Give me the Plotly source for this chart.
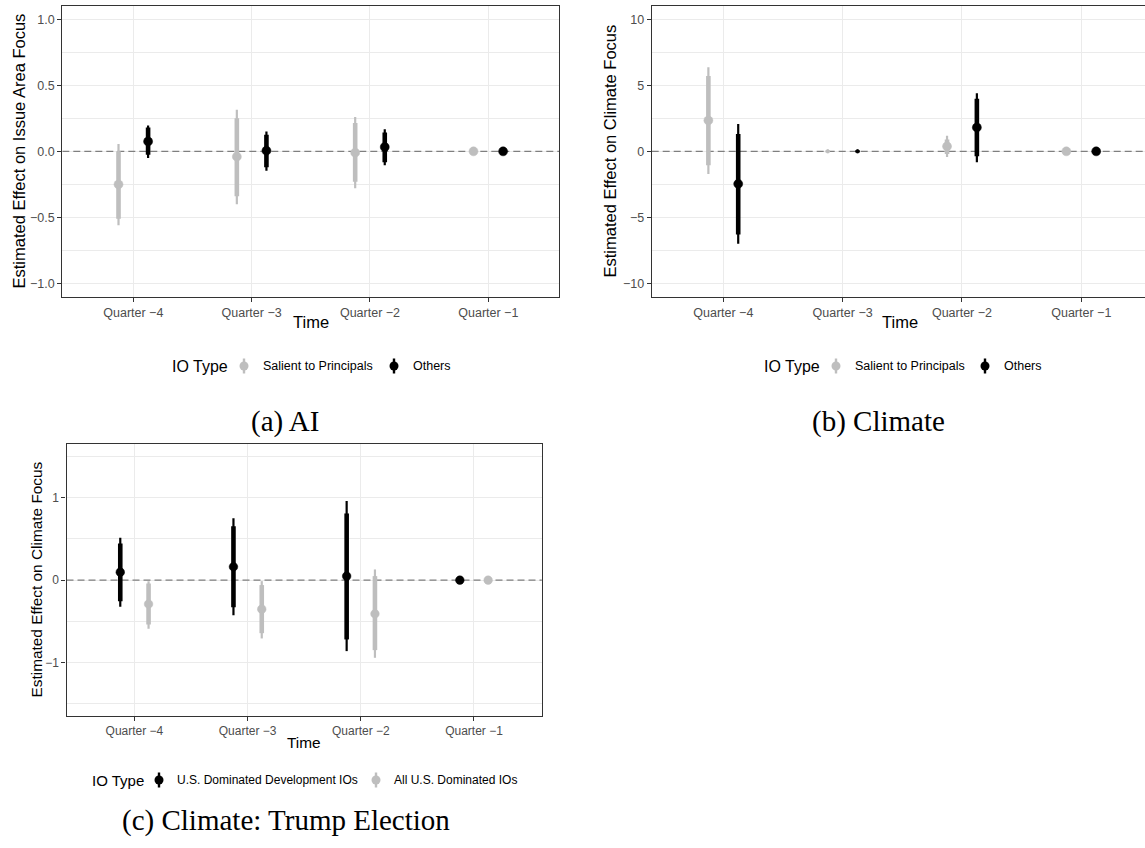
import plotly.graph_objects as go

W, H = 1145, 848

quarters = ["Quarter \u22124", "Quarter \u22123", "Quarter \u22122", "Quarter \u22121"]

# (a) AI
ai_salient_est = [-0.25, -0.04, -0.01, 0.0]
ai_salient_lo95 = [-0.56, -0.40, -0.28, None]
ai_salient_lo90 = [-0.51, -0.34, -0.23, None]
ai_salient_hi90 = [0.0, 0.25, 0.215, None]
ai_salient_hi95 = [0.055, 0.315, 0.26, None]

ai_others_est = [0.075, 0.005, 0.033, 0.0]
ai_others_lo95 = [-0.05, -0.146, -0.105, None]
ai_others_lo90 = [-0.025, -0.12, -0.083, None]
ai_others_hi90 = [0.18, 0.126, 0.143, None]
ai_others_hi95 = [0.196, 0.15, 0.167, None]

# (b) Climate
cl_salient_est = [2.34, 0.0, 0.38, 0.0]
cl_salient_lo95 = [-1.71, -0.15, -0.43, None]
cl_salient_lo90 = [-1.06, -0.08, -0.2, None]
cl_salient_hi90 = [5.71, 0.08, 0.9, None]
cl_salient_hi95 = [6.37, 0.15, 1.18, None]

cl_others_est = [-2.46, 0.0, 1.81, 0.0]
cl_others_lo95 = [-6.99, -0.15, -0.83, None]
cl_others_lo90 = [-6.29, -0.08, -0.38, None]
cl_others_hi90 = [1.31, 0.08, 3.98, None]
cl_others_hi95 = [2.07, 0.15, 4.4, None]

# (c) Climate: Trump Election
tr_dev_est = [0.097, 0.162, 0.049, 0.0]
tr_dev_lo95 = [-0.324, -0.425, -0.862, None]
tr_dev_lo90 = [-0.255, -0.328, -0.72, None]
tr_dev_hi90 = [0.445, 0.656, 0.81, None]
tr_dev_hi95 = [0.514, 0.753, 0.96, None]

tr_all_est = [-0.29, -0.352, -0.409, 0.0]
tr_all_lo95 = [-0.59, -0.708, -0.943, None]
tr_all_lo90 = [-0.54, -0.644, -0.85, None]
tr_all_hi90 = [-0.04, -0.06, 0.049, None]
tr_all_hi95 = [-0.012, -0.012, 0.13, None]

GREY = "#BEBEBE"
BLACK = "#000000"
FRAME = "#333333"
GRID = "#EBEBEB"
SANS = "Liberation Sans, Arial, sans-serif"
SERIF = "Liberation Serif, Times New Roman, serif"


def px(x):
    return x / W


def py(y):
    return 1 - y / H


fig = go.Figure()

# panel geometry in pixels: left, right, top, bottom
A = (62.3, 559.3, 6.0, 296.7)
B = (651.7, 1145.0, 6.0, 296.7)
C = (66.5, 541.9, 444.3, 716.0)
XR_A = [0.4, 4.6]
XR_B = [0.4, 4.534]
XR_C = [0.4, 4.6]

# dashed reference line at zero, drawn first so the estimates sit on top
for xa, ya, xr in (("x", "y", XR_A), ("x2", "y2", XR_B), ("x3", "y3", XR_C)):
    fig.add_trace(go.Scatter(x=xr, y=[0, 0], mode="lines", xaxis=xa, yaxis=ya,
                             line=dict(color="#7F7F7F", width=1.3, dash="7px,4px"),
                             showlegend=False, hoverinfo="skip"))


def add_series(xa, ya, est, lo95, lo90, hi90, hi95, offset, color,
               thin=2.2, thick=4.6, size=9, small=()):
    xs = [i + 1 + offset for i in range(len(est))]
    for lo_list, hi_list, w in ((lo95, hi95, thin), (lo90, hi90, thick)):
        lx, ly = [], []
        for x, lo, hi in zip(xs, lo_list, hi_list):
            if lo is None:
                continue
            lx += [x, x, None]
            ly += [lo, hi, None]
        fig.add_trace(go.Scatter(x=lx, y=ly, mode="lines", xaxis=xa, yaxis=ya,
                                 line=dict(color=color, width=w),
                                 showlegend=False, hoverinfo="skip"))
    sizes = [3 if q in small else size for q in quarters]
    fig.add_trace(go.Scatter(x=xs, y=est, mode="markers", xaxis=xa, yaxis=ya,
                             marker=dict(color=color, size=sizes, opacity=1,
                                         line=dict(width=0.5, color=color)),
                             showlegend=False))


DODGE = 0.125

# panel (a)
add_series("x", "y", ai_salient_est, ai_salient_lo95, ai_salient_lo90,
           ai_salient_hi90, ai_salient_hi95, -DODGE, GREY)
add_series("x", "y", ai_others_est, ai_others_lo95, ai_others_lo90,
           ai_others_hi90, ai_others_hi95, DODGE, BLACK)
# panel (b)
add_series("x2", "y2", cl_salient_est, cl_salient_lo95, cl_salient_lo90,
           cl_salient_hi90, cl_salient_hi95, -DODGE, GREY, small={quarters[1]})
add_series("x2", "y2", cl_others_est, cl_others_lo95, cl_others_lo90,
           cl_others_hi90, cl_others_hi95, DODGE, BLACK, small={quarters[1]})
# panel (c)
add_series("x3", "y3", tr_dev_est, tr_dev_lo95, tr_dev_lo90,
           tr_dev_hi90, tr_dev_hi95, -DODGE, BLACK, size=8.6)
add_series("x3", "y3", tr_all_est, tr_all_lo95, tr_all_lo90,
           tr_all_hi90, tr_all_hi95, DODGE, GREY, size=8.6)


def xaxis_cfg(dom, rng, anchor, fs, mirror=True):
    return dict(domain=dom, range=rng, anchor=anchor,
                tickmode="array", tickvals=[1, 2, 3, 4], ticktext=quarters,
                showgrid=True, gridcolor=GRID, gridwidth=1.1,
                zeroline=False, showline=True, linecolor=FRAME, linewidth=1.1,
                mirror=mirror, ticks="outside", ticklen=4, tickcolor=FRAME,
                tickfont=dict(family=SANS, size=fs, color="#4D4D4D"),
                fixedrange=True)


def yaxis_cfg(dom, rng, anchor, dtick, minor, fmt, fs, mirror=True):
    return dict(domain=dom, range=rng, anchor=anchor,
                tickmode="linear", tick0=0, dtick=dtick, tickformat=fmt,
                showgrid=True, gridcolor=GRID, gridwidth=1.1,
                minor=dict(tickmode="linear", tick0=0, dtick=minor, showgrid=True,
                           gridcolor=GRID, gridwidth=0.9, ticks=""),
                zeroline=False, showline=True, linecolor=FRAME, linewidth=1.1,
                mirror=mirror, ticks="outside", ticklen=4, tickcolor=FRAME,
                tickfont=dict(family=SANS, size=fs, color="#4D4D4D"),
                fixedrange=True)


fig.update_layout(
    xaxis=xaxis_cfg([px(A[0]), px(A[1])], XR_A, "y", 12.5),
    yaxis=yaxis_cfg([py(A[3]), py(A[2])], [-1.1, 1.1], "x", 0.5, 0.25, ".1f", 12.5),
    xaxis2=xaxis_cfg([px(B[0]), 1.0], XR_B, "y2", 12.5),
    yaxis2=yaxis_cfg([py(B[3]), py(B[2])], [-11, 11], "x2", 5, 2.5, "d", 12.5, mirror=False),
    xaxis3=xaxis_cfg([px(C[0]), px(C[1])], XR_C, "y3", 12),
    yaxis3=yaxis_cfg([py(C[3]), py(C[2])], [-1.65, 1.65], "x3", 1, 0.5, "d", 12),
)

annotations = []


def text(x, y, s, size, family=SANS, color="#000000", angle=0, xanchor="center"):
    annotations.append(dict(x=px(x), y=py(y), xref="paper", yref="paper", text=s,
                            showarrow=False, textangle=angle, xanchor=xanchor,
                            yanchor="middle",
                            font=dict(family=family, size=size, color=color)))


# axis titles
text(19, 151.5, "Estimated Effect on Issue Area Focus", 16.5, angle=-90)
text(609.5, 151, "Estimated Effect on Climate Focus", 16.5, angle=-90)
text(35.5, 580, "Estimated Effect on Climate Focus", 15.4, angle=-90)
text((A[0] + A[1]) / 2, 322, "Time", 16.5)
text(900, 322, "Time", 16.5)
text((C[0] + C[1]) / 2, 742, "Time", 15.4)

# legends
shapes = []


def key(x, y, color, h=15, dot=9):
    shapes.append(dict(type="line", xref="paper", yref="paper",
                       x0=px(x), x1=px(x), y0=py(y - h / 2), y1=py(y + h / 2),
                       line=dict(color=color, width=2.4)))
    shapes.append(dict(type="circle", xref="paper", yref="paper",
                       x0=px(x - dot / 2), x1=px(x + dot / 2),
                       y0=py(y - dot / 2), y1=py(y + dot / 2),
                       fillcolor=color, line=dict(width=0)))


def legend(x0, y, items, title_size, item_size, gap_title, gap_key, gap_item, widths):
    text(x0, y, "IO Type", title_size, xanchor="left")
    x = x0 + widths[0] + gap_title
    for (label, color), w in zip(items, widths[1:]):
        key(x, y, color)
        text(x + gap_key, y, label, item_size, xanchor="left")
        x = x + gap_key + w + gap_item


legend(170, 366, [("Salient to Principals", GREY), ("Others", BLACK)],
       16, 12.5, 16, 17, 17, [58, 116, 39])
legend(762, 366, [("Salient to Principals", GREY), ("Others", BLACK)],
       16, 12.5, 17, 17, 17, [57, 115, 39])
legend(90, 780, [("U.S. Dominated Development IOs", BLACK), ("All U.S. Dominated IOs", GREY)],
       15, 12, 16, 16, 16, [53, 185, 127])

# captions
text(285, 421, "(a) AI", 29, family=SERIF)
text(878, 421, "(b) Climate", 29, family=SERIF)
text(286, 820, "(c) Climate: Trump Election", 29, family=SERIF)

fig.update_layout(
    width=W, height=H, margin=dict(l=0, r=0, t=0, b=0),
    paper_bgcolor="white", plot_bgcolor="white",
    showlegend=False, annotations=annotations, shapes=shapes,
)

fig.write_html("out.html")
